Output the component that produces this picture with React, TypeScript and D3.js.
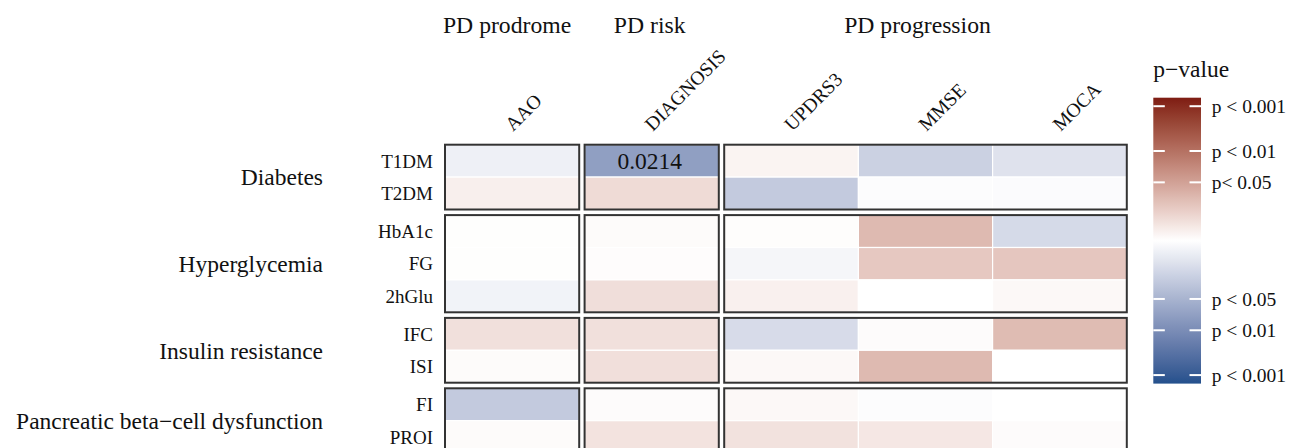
import React from "react";
import * as d3 from "d3";

// ---------- data ----------
const columns = ["AAO", "DIAGNOSIS", "UPDRS3", "MMSE", "MOCA"];
const columnGroups = ["PD prodrome", "PD risk", "PD progression"];
const columnGroupOf = [0, 1, 2, 2, 2];

const rows = ["T1DM", "T2DM", "HbA1c", "FG", "2hGlu", "IFC", "ISI", "FI", "PROI"];
const rowGroups = ["Diabetes", "Hyperglycemia", "Insulin resistance", "Pancreatic beta\u2212cell dysfunction"];
const rowGroupOf = [0, 0, 1, 1, 1, 2, 2, 3, 3];

// signed -log10(p): positive = red, negative = blue (columns: AAO, DIAGNOSIS, UPDRS3, MMSE, MOCA)
const T1DM = [-0.25, -1.6696, 0.15, -0.78, -0.48];
const T2DM = [0.22, 0.49, -0.9, -0.05, -0.06];
const HbA1c = [0.02, 0.06, 0.03, 0.95, -0.63];
const FG = [0.02, 0.04, -0.15, 0.75, 0.78];
const hGlu2 = [-0.2, 0.45, 0.2, 0.0, 0.1];
const IFC = [0.42, 0.42, -0.6, 0.05, 0.93];
const ISI = [0.06, 0.43, 0.1, 0.95, 0.0];
const FI = [-0.9, 0.05, 0.1, -0.05, 0.0];
const PROI = [0.06, 0.38, 0.4, 0.32, 0.05];
const values = [T1DM, T2DM, HbA1c, FG, hGlu2, IFC, ISI, FI, PROI];

const legendTickValues = [3, 2, 1.301, -1.301, -2, -3];
const legendTickLabels = ["p < 0.001", "p < 0.01", "p< 0.05", "p < 0.05", "p < 0.01", "p < 0.001"];
const valueMax = 3.19;
const sigThreshold = 1.301;

// ---------- layout ----------
const W = 1295;
const H = 448;
const FONT = "'Liberation Serif', 'Times New Roman', serif";
const gridLeft = 445;
const colW = 134.2;
const colGap = 5.4;
const gridTop = 144.7;
const rowH = 32.4;
const rowGap = 5.6;

const xOf = (i: number) => gridLeft + i * colW + columnGroupOf[i] * colGap;
const yOf = (j: number) => gridTop + j * rowH + rowGroupOf[j] * rowGap;

const color = d3
  .scaleLinear<string>()
  .domain([-valueMax, 0, valueMax])
  .range(["#23508C", "#FFFFFF", "#7E1C13"])
  .interpolate(d3.interpolateLab);

const legX = 1153.3;
const legW = 47.7;
const legY = d3.scaleLinear().domain([valueMax, -valueMax]).range([97.7, 383.6]);

export default function App() {
  const colGroupSpan = columnGroups.map((_, g) => {
    const idx = columns.map((_, i) => i).filter((i) => columnGroupOf[i] === g);
    return [xOf(idx[0]), xOf(idx[idx.length - 1]) + colW];
  });
  const rowGroupSpan = rowGroups.map((_, g) => {
    const idx = rows.map((_, j) => j).filter((j) => rowGroupOf[j] === g);
    return [yOf(idx[0]), yOf(idx[idx.length - 1]) + rowH];
  });
  const headerDx = [-5, -2, -8];

  const stops = d3.range(0, 41).map((k) => {
    const t = k / 40;
    const v = valueMax - t * 2 * valueMax;
    return <stop key={k} offset={`${t * 100}%`} stopColor={color(v)} />;
  });

  return (
    <svg
      width={W}
      height={H}
      style={{ position: "absolute", left: 0, top: 0, background: "#fff" }}
      fontFamily={FONT}
    >
      <defs>
        <linearGradient id="legGrad" x1="0" y1="0" x2="0" y2="1">
          {stops}
        </linearGradient>
      </defs>
      <rect width={W} height={H} fill="#fff" />

      {/* column group headers */}
      {columnGroups.map((g, k) => (
        <text
          key={g}
          x={(colGroupSpan[k][0] + colGroupSpan[k][1]) / 2 + headerDx[k]}
          y={32.5}
          fontSize={23.7}
          textAnchor="middle"
          fill="#111"
        >
          {g}
        </text>
      ))}

      {/* column labels */}
      {columns.map((c, i) => {
        const cx = xOf(i) + colW / 2 + 1;
        const cy = 132;
        return (
          <text
            key={c}
            x={cx}
            y={cy}
            fontSize={19.5}
            textAnchor="start"
            transform={`rotate(-45 ${cx} ${cy})`}
            fill="#111"
          >
            {c}
          </text>
        );
      })}

      {/* cells */}
      {rows.map((r, j) =>
        columns.map((c, i) => (
          <rect
            key={r + c}
            x={xOf(i)}
            y={yOf(j)}
            width={colW}
            height={rowH}
            fill={color(values[j][i])}
            stroke="#fff"
            strokeWidth={1.2}
          />
        ))
      )}

      {/* significant values */}
      {rows.map((r, j) =>
        columns.map((c, i) =>
          Math.abs(values[j][i]) >= sigThreshold ? (
            <text
              key={"t" + r + c}
              x={xOf(i) + colW / 2 - 2}
              y={yOf(j) + rowH / 2}
              dy="0.35em"
              fontSize={23.5}
              textAnchor="middle"
              fill="#111"
            >
              {Math.pow(10, -Math.abs(values[j][i])).toFixed(4)}
            </text>
          ) : null
        )
      )}

      {/* block borders */}
      {rowGroups.map((rg, a) =>
        columnGroups.map((cg, b) => (
          <rect
            key={rg + cg}
            x={colGroupSpan[b][0]}
            y={rowGroupSpan[a][0]}
            width={colGroupSpan[b][1] - colGroupSpan[b][0]}
            height={rowGroupSpan[a][1] - rowGroupSpan[a][0]}
            fill="none"
            stroke="#333"
            strokeWidth={2}
          />
        ))
      )}

      {/* row labels */}
      {rows.map((r, j) => (
        <text key={r} x={433} y={yOf(j) + rowH / 2} dy="0.35em" fontSize={19} textAnchor="end" fill="#111">
          {r}
        </text>
      ))}

      {/* row group labels */}
      {rowGroups.map((g, a) => (
        <text
          key={g}
          x={323}
          y={(rowGroupSpan[a][0] + rowGroupSpan[a][1]) / 2}
          dy="0.35em"
          fontSize={23.5}
          textAnchor="end"
          fill="#111"
        >
          {g}
        </text>
      ))}

      {/* legend */}
      <text x={legX} y={76.7} fontSize={23.5} fill="#111">
        p{"\u2212"}value
      </text>
      <rect x={legX} y={legY(valueMax)} width={legW} height={legY(-valueMax) - legY(valueMax)} fill="url(#legGrad)" />
      {legendTickValues.map((v, k) => (
        <g key={k}>
          <line x1={legX} x2={legX + 11.5} y1={legY(v)} y2={legY(v)} stroke="#fff" strokeWidth={2} />
          <line x1={legX + legW - 11.5} x2={legX + legW} y1={legY(v)} y2={legY(v)} stroke="#fff" strokeWidth={2} />
          <text x={1211.7} y={legY(v)} dy="0.35em" fontSize={19.5} fill="#111">
            {legendTickLabels[k]}
          </text>
        </g>
      ))}
    </svg>
  );
}
